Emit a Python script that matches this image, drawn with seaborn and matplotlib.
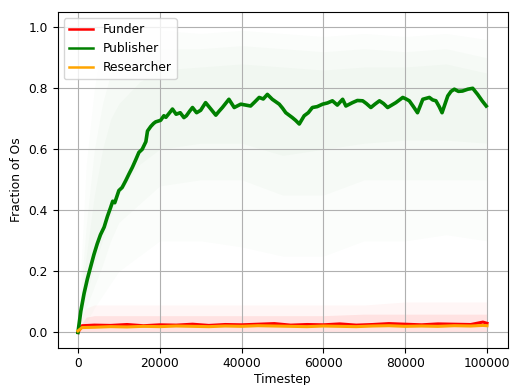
import numpy as np
import pandas as pd
import matplotlib
matplotlib.use("Agg")
import matplotlib.pyplot as plt
import seaborn as sns

# Mean trajectory of the publisher population (timestep in thousands, fraction of Os)
pub_t = [0, 0.7, 1.5, 2.3, 3.1, 3.9, 4.7, 5.5, 6.4, 7.2, 8.0, 8.5, 9.0, 10.0, 10.8,
         11.7, 12.5, 13.3, 14.1, 14.9, 15.7, 16.6, 17.0, 17.8, 18.5, 19.0, 20.2, 21.0,
         21.5, 22.7, 23.1, 24.0, 25.0, 25.9, 26.5, 27.3, 28.0, 29.0, 30.0, 31.2, 32.0,
         33.7, 34.5, 35.3, 36.9, 38.2, 39.8, 41.0, 42.2, 43.2, 44.3, 45.3, 46.3, 47.5,
         49.2, 50.0, 50.8, 52.4, 53.2, 54.1, 55.3, 56.3, 57.3, 58.5, 59.8, 61.0, 62.2,
         63.4, 64.7, 65.5, 67.1, 68.3, 69.6, 70.5, 71.6, 72.6, 73.7, 74.7, 75.7, 76.7,
         77.7, 79.4, 80.2, 81.0, 82.0, 83.0, 84.3, 85.9, 86.7, 87.5, 88.3, 89.0, 90.4,
         91.2, 92.0, 93.0, 94.0, 95.3, 96.5, 97.7, 98.8, 99.8]
pub_v = [0.0, 0.07, 0.128, 0.175, 0.215, 0.255, 0.29, 0.32, 0.345, 0.38, 0.41, 0.43,
         0.425, 0.465, 0.475, 0.498, 0.52, 0.541, 0.565, 0.59, 0.60, 0.625, 0.66, 0.675,
         0.685, 0.69, 0.695, 0.71, 0.705, 0.725, 0.732, 0.715, 0.72, 0.704, 0.71, 0.725,
         0.737, 0.72, 0.728, 0.753, 0.74, 0.712, 0.725, 0.737, 0.764, 0.737, 0.748,
         0.745, 0.742, 0.755, 0.77, 0.765, 0.78, 0.764, 0.748, 0.735, 0.72, 0.704, 0.695,
         0.683, 0.71, 0.72, 0.737, 0.74, 0.748, 0.752, 0.759, 0.745, 0.764, 0.742, 0.753,
         0.76, 0.759, 0.75, 0.737, 0.748, 0.759, 0.75, 0.737, 0.745, 0.753, 0.77, 0.765,
         0.759, 0.74, 0.72, 0.764, 0.77, 0.762, 0.759, 0.74, 0.72, 0.775, 0.79, 0.797,
         0.79, 0.791, 0.797, 0.8, 0.78, 0.759, 0.742]

# Mean trajectories of funders and researchers
low_t = [0, 1, 4, 8, 12, 16, 20, 24, 28, 32, 36, 40, 44, 48, 52, 56, 60, 64, 68, 72,
         76, 80, 84, 88, 92, 96, 99, 100]
funder_v = [0.0, 0.022, 0.024, 0.023, 0.026, 0.022, 0.025, 0.024, 0.027, 0.023, 0.026,
            0.025, 0.027, 0.029, 0.024, 0.026, 0.025, 0.028, 0.024, 0.026, 0.029, 0.027,
            0.025, 0.028, 0.027, 0.026, 0.034, 0.03]
researcher_v = [0.005, 0.016, 0.017, 0.019, 0.018, 0.02, 0.019, 0.021, 0.02, 0.019,
                0.021, 0.02, 0.022, 0.021, 0.02, 0.019, 0.021, 0.02, 0.019, 0.021, 0.022,
                0.02, 0.021, 0.02, 0.022, 0.021, 0.023, 0.022]

# Spread of the individual runs (envelopes of the faint per-run traces)
env_t = [0, 2, 4, 6, 8, 10, 15, 20, 30, 40, 50, 60, 70, 80, 90, 100]
pub_outer_hi = [0.02, 0.55, 0.8, 0.95, 0.97, 0.98, 0.99, 0.99, 0.98, 0.99, 0.98, 0.97, 0.98, 0.97, 0.98, 0.96]
pub_outer_lo = [0.0, 0.03, 0.08, 0.12, 0.16, 0.2, 0.25, 0.3, 0.3, 0.28, 0.25, 0.25, 0.3, 0.3, 0.32, 0.3]
pub_inner_hi = [0.02, 0.35, 0.6, 0.75, 0.85, 0.88, 0.92, 0.93, 0.93, 0.94, 0.93, 0.92, 0.93, 0.92, 0.93, 0.9]
pub_inner_lo = [0.0, 0.08, 0.15, 0.22, 0.3, 0.36, 0.42, 0.48, 0.5, 0.5, 0.45, 0.45, 0.5, 0.5, 0.5, 0.5]
pub_core_hi = [0.02, 0.25, 0.45, 0.6, 0.7, 0.75, 0.82, 0.86, 0.87, 0.88, 0.87, 0.86, 0.87, 0.87, 0.88, 0.85]
pub_core_lo = [0.0, 0.12, 0.22, 0.3, 0.38, 0.45, 0.55, 0.6, 0.62, 0.62, 0.58, 0.6, 0.62, 0.63, 0.63, 0.62]
low_outer_hi = [0.02, 0.08, 0.09, 0.09, 0.09, 0.09, 0.09, 0.09, 0.09, 0.09, 0.09, 0.09, 0.09, 0.1, 0.1, 0.1]
low_inner_hi = [0.01, 0.05, 0.055, 0.055, 0.055, 0.055, 0.055, 0.055, 0.055, 0.055, 0.055, 0.055, 0.06, 0.06, 0.06, 0.06]
low_lo = [0.0, 0.0, 0.0, 0.0, 0.0, 0.0, 0.0, 0.0, 0.0, 0.0, 0.0, 0.0, 0.0, 0.0, 0.0, 0.0]

T = 1000
pub = pd.DataFrame({"Timestep": np.array(pub_t) * T, "Fraction of Os": pub_v})
low = pd.DataFrame({"Timestep": np.array(low_t) * T, "Funder": funder_v,
                    "Researcher": researcher_v})
env_x = np.array(env_t) * T

plt.rcParams["font.family"] = ["DejaVu Sans"]
plt.rcParams["font.size"] = 8.8

fig = plt.figure(figsize=(5.12, 3.85), dpi=100)
ax = fig.add_axes([57.5 / 512, 1 - 347.7 / 385, 450 / 512, 335.7 / 385])

# faint haze of the individual runs
for lo, hi, a in [(pub_outer_lo, pub_outer_hi, 0.015), (pub_inner_lo, pub_inner_hi, 0.02),
                  (pub_core_lo, pub_core_hi, 0.02)]:
    ax.fill_between(env_x, lo, hi, color="green", alpha=a, linewidth=0)
for hi, a in [(low_outer_hi, 0.035), (low_inner_hi, 0.08)]:
    ax.fill_between(env_x, low_lo, hi, color="red", alpha=a, linewidth=0)

sns.lineplot(data=low, x="Timestep", y="Funder", color="red", linewidth=2.2,
             label="Funder", ax=ax)
sns.lineplot(data=pub, x="Timestep", y="Fraction of Os", color="green", linewidth=2.6,
             label="Publisher", ax=ax)
sns.lineplot(data=low, x="Timestep", y="Researcher", color="orange", linewidth=2.2,
             label="Researcher", ax=ax)

ax.set_xlim(-5000, 105000)
ax.set_ylim(-0.05, 1.05)
ax.set_xticks([0, 20000, 40000, 60000, 80000, 100000])
ax.set_yticks([0.0, 0.2, 0.4, 0.6, 0.8, 1.0])
ax.set_xlabel("Timestep", labelpad=2)
ax.set_ylabel("Fraction of Os")
ax.grid(True, color="#b0b0b0", linewidth=0.8)
leg = ax.legend(loc="upper left")
for line in leg.get_lines():
    line.set_linewidth(1.8)

fig.savefig("out.png", dpi=100)
